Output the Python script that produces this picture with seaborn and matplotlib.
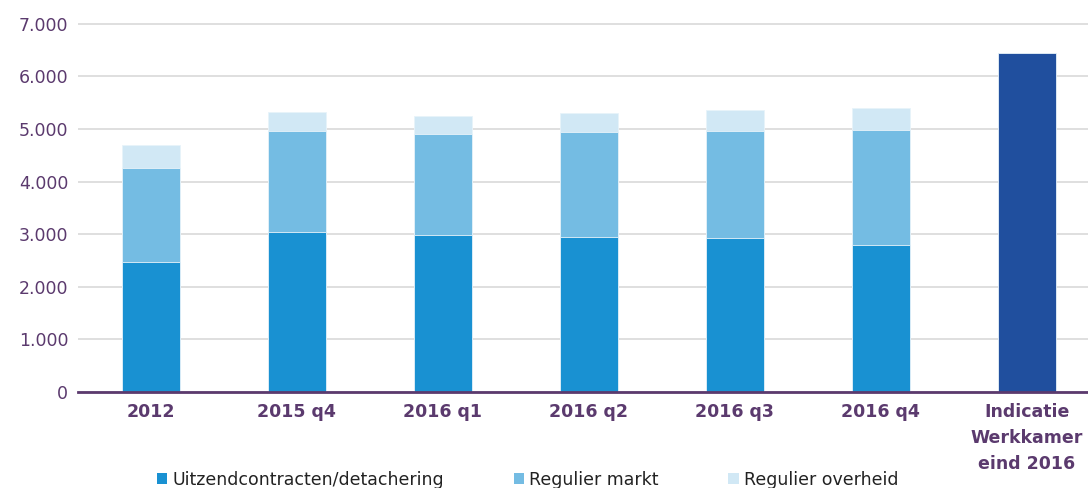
"""Stacked bar chart: werkenden per categorie met indicatie Werkkamer."""
import pandas as pd
import seaborn as sns
import matplotlib.pyplot as plt
from matplotlib.patches import Patch

categories = ['2012', '2015 q4', '2016 q1', '2016 q2', '2016 q3', '2016 q4',
              'Indicatie\nWerkkamer\neind 2016']
uitzend = [2480, 3050, 2980, 2950, 2920, 2790, 0]
markt = [1770, 1920, 1920, 1990, 2050, 2200, 0]
overheid = [450, 360, 350, 370, 400, 410, 0]
indicatie = [0, 0, 0, 0, 0, 0, 6450]

series_labels = ['Uitzendcontracten/detachering', 'Regulier markt', 'Regulier overheid']

c_dark = '#1991d2'
c_mid = '#74bce3'
c_light = '#d1e8f5'
c_ind = '#204f9e'
purple = '#5b3a6e'

df = pd.DataFrame({'cat': categories, 'uitzend': uitzend, 'markt': markt,
                   'overheid': overheid, 'indicatie': indicatie})
df['lvl2'] = df['uitzend'] + df['markt']
df['lvl3'] = df['lvl2'] + df['overheid']

sns.set_style('white')
plt.rcParams['font.family'] = ['DejaVu Sans']

fig = plt.figure(figsize=(10.88, 4.88), dpi=100)
ax = fig.add_axes([78 / 1088, 96 / 488, 1010 / 1088, 369 / 488])

# stacked look: draw cumulative totals from top to bottom
width = 0.4
for col, color in [('lvl3', c_light), ('lvl2', c_mid), ('uitzend', c_dark),
                   ('indicatie', c_ind)]:
    sns.barplot(data=df, x='cat', y=col, color=color, width=width, saturation=1,
                edgecolor='#e8f3fa', linewidth=0.6, ax=ax, zorder=3)

ax.set_ylim(0, 7015)
ax.set_xlim(-0.5, 6.42)
ax.set_yticks(range(0, 7001, 1000))
ax.set_yticklabels(['0' if v == 0 else f'{v // 1000}.000' for v in range(0, 7001, 1000)])
ax.yaxis.grid(True, color='#d9d9d9', linewidth=1.2, zorder=0)
ax.set_axisbelow(True)
ax.set_xlabel('')
ax.set_ylabel('')

for s in ['top', 'right', 'left']:
    ax.spines[s].set_visible(False)
ax.spines['bottom'].set_color(purple)
ax.spines['bottom'].set_linewidth(2)
ax.spines['bottom'].set_zorder(5)

ax.tick_params(axis='y', length=0, labelsize=12.5, labelcolor=purple, pad=7)
ax.tick_params(axis='x', length=0, labelsize=12.5, labelcolor=purple, pad=8)
for lbl in ax.get_xticklabels():
    lbl.set_fontweight('bold')
    lbl.set_linespacing(1.55)

handles = [Patch(facecolor=c, edgecolor='none') for c in (c_dark, c_mid, c_light)]
fig.legend(handles, series_labels, loc='center left', bbox_to_anchor=(157 / 1088, 8 / 488),
           ncol=3, frameon=False, fontsize=12.5, handlelength=0.6, handleheight=0.6,
           handletextpad=0.3, columnspacing=4.0, labelcolor='#222222',
           borderaxespad=0, borderpad=0)

fig.savefig('out.png', dpi=100)
plt.close(fig)
